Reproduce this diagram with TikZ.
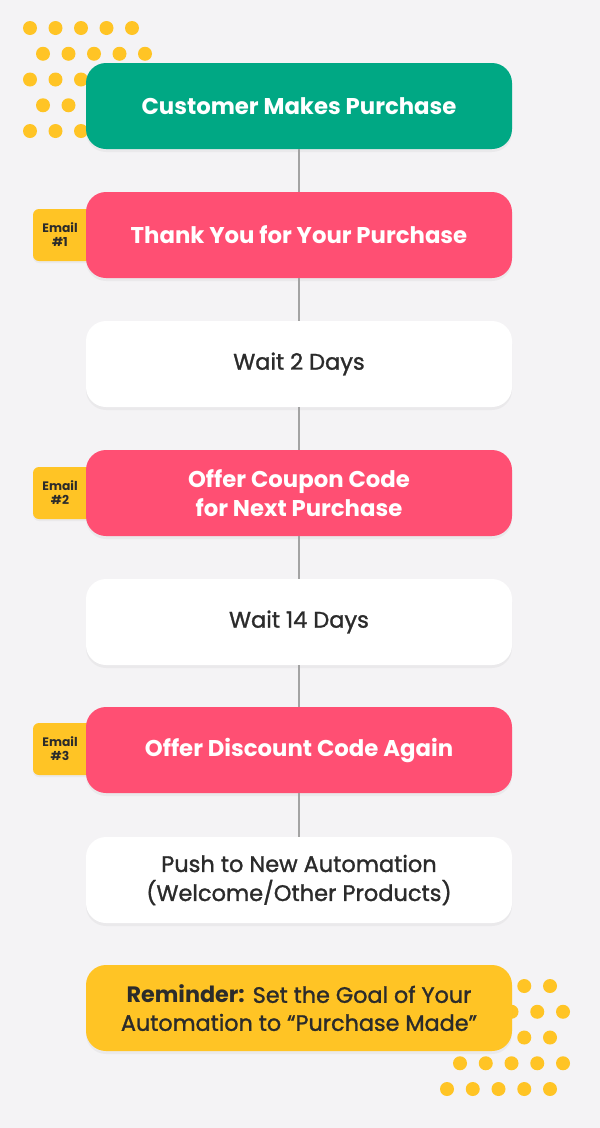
\documentclass[tikz,border=0pt]{standalone}
\usepackage{fontspec}
\setmainfont{Poppins}
\newfontfamily\medfont{Poppins}[FakeBold=1.3]
\usetikzlibrary{shadows}
\definecolor{bg}{HTML}{F4F3F5}
\definecolor{grn}{HTML}{00A884}
\definecolor{pnk}{HTML}{FF4F73}
\definecolor{ylw}{HTML}{FFC425}
\definecolor{dark}{HTML}{2B2B2B}
\definecolor{conn}{HTML}{A3A3A3}
\begin{document}
\begin{tikzpicture}[x=1pt,y=-1pt,
  box/.style={rounded corners=20pt, minimum width=426pt, minimum height=86pt, align=center, inner sep=0pt,
    drop shadow={opacity=0.08, shadow xshift=0pt, shadow yshift=-3pt}},
  actbox/.style={box, fill=grn, text=white, font=\fontsize{22.8}{29}\selectfont\bfseries},
  mailbox/.style={box, fill=pnk, text=white, font=\fontsize{22.8}{29}\selectfont\bfseries},
  waitbox/.style={box, fill=white, text=dark, font=\fontsize{22.5}{29}\selectfont\medfont},
  notebox/.style={box, fill=ylw, text=dark, font=\fontsize{22.3}{28}\selectfont\medfont},
  tag/.style={fill=ylw, rounded corners=6pt, minimum width=67pt, minimum height=52pt, inner sep=0pt,
    drop shadow={opacity=0.08, shadow xshift=0pt, shadow yshift=-2pt}},
  tagtext/.style={text=dark, align=center, inner sep=0pt, font=\fontsize{12.3}{14}\selectfont\bfseries},
  dot/.style={circle, fill=ylw, minimum size=14pt, inner sep=0pt},
  link/.style={draw=conn, line width=1.6pt}
]
\fill[bg] (0,0) rectangle (600,1128);
\useasboundingbox (0,0) rectangle (600,1128);
% dots top-left
\foreach \r in {0,2,4} \foreach \c in {0,...,4}
  \node[dot] (tl-\r-\c) at ({30+25.5*\c},{28+25.75*\r}) {};
\foreach \r in {1,3} \foreach \c in {0,...,4}
  \node[dot] (tl-\r-\c) at ({43+25.5*\c},{28+25.75*\r}) {};
% dots bottom-right
\foreach \r in {0,2,4} \foreach \c in {0,...,4}
  \node[dot] (br-\r-\c) at ({447+25.75*\c},{986+25.75*\r}) {};
\foreach \r in {1,3} \foreach \c in {0,...,4}
  \node[dot] (br-\r-\c) at ({460+25.75*\c},{986+25.75*\r}) {};
% email tags
\node[tag] (t1) at (66.5,235) {};
\node[tag] (t2) at (66.5,493) {};
\node[tag] (t3) at (66.5,749) {};
\node[tagtext] (e1) at (60,235) {Email\\\#1};
\node[tagtext] (e2) at (60,493) {Email\\\#2};
\node[tagtext] (e3) at (60,749) {Email\\\#3};
% boxes
\node[actbox] (b1) at (299,106) {Customer Makes Purchase};
\node[mailbox] (b2) at (299,235) {Thank You for Your Purchase};
\node[waitbox] (b3) at (299,364) {Wait 2 Days};
\node[mailbox] (b4) at (299,493) {Offer Coupon Code\\for Next Purchase};
\node[waitbox] (b5) at (299,622) {Wait 14 Days};
\node[mailbox] (b6) at (299,750) {Offer Discount Code Again};
\node[waitbox] (b7) at (299,880) {Push to New Automation\\(Welcome/Other Products)};
\node[notebox] (b8) at (299,1008) {{\normalfont\bfseries Reminder:} Set the Goal of Your\\Automation to “Purchase Made”};
% connectors
\draw[link] (b1.south) -- (b2.north);
\draw[link] (b2.south) -- (b3.north);
\draw[link] (b3.south) -- (b4.north);
\draw[link] (b4.south) -- (b5.north);
\draw[link] (b5.south) -- (b6.north);
\draw[link] (b6.south) -- (b7.north);
\end{tikzpicture}
\end{document}
